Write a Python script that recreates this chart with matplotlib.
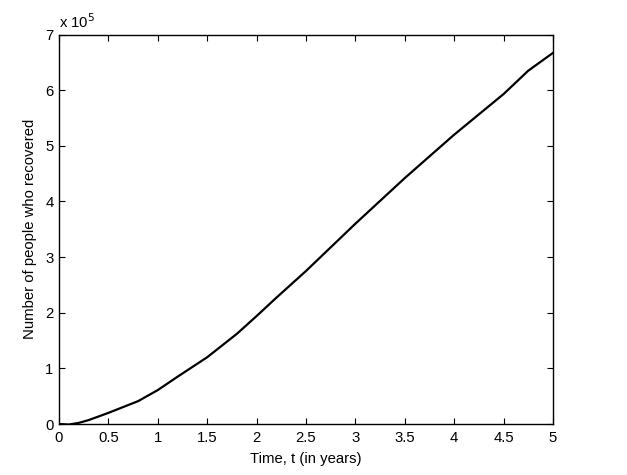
import numpy as np
import matplotlib.pyplot as plt

plt.rcParams['font.family'] = ['Liberation Sans', 'DejaVu Sans']
plt.rcParams['font.size'] = 10.7

# data (recovered people, units of 1e5)
t = [0, 0.1, 0.2, 0.3, 0.5, 0.8, 1.0, 1.2, 1.5, 1.8, 2.0, 2.2, 2.5, 3.0, 3.5, 4.0, 4.5, 4.75, 5.0]
recovered = [0, -0.01, 0.02, 0.07, 0.2, 0.41, 0.61, 0.85, 1.2, 1.62, 1.94, 2.27, 2.75, 3.6, 4.42, 5.2, 5.93, 6.35, 6.67]

fig = plt.figure(figsize=(6.27, 4.75), dpi=100)
ax = fig.add_axes([59/627, 1 - 424/475, (553-59)/627, (424-34.5)/475])
ax.plot(t, np.array(recovered) * 1e5, color='black', linewidth=1.6)

ax.set_xlim(0, 5)
ax.set_ylim(0, 7e5)
ax.set_xticks(np.arange(0, 5.01, 0.5))
ax.set_xticklabels(['0', '0.5', '1', '1.5', '2', '2.5', '3', '3.5', '4', '4.5', '5'])
ax.set_yticks(np.arange(0, 7.01, 1) * 1e5)
ax.set_yticklabels([str(i) for i in range(8)])
ax.tick_params(direction='in', top=True, right=True, length=4, width=0.8)
ax.tick_params(axis='x', pad=5)
ax.tick_params(axis='y', pad=4)
for s in ax.spines.values():
    s.set_linewidth(1.0)

ax.text(0, 1.01, r'x 10$^5$', transform=ax.transAxes, va='bottom', ha='left')
ax.set_xlabel('Time, t (in years)', labelpad=5)
ax.set_ylabel('Number of people who recovered', labelpad=6)

fig.savefig('out.png', dpi=100)
